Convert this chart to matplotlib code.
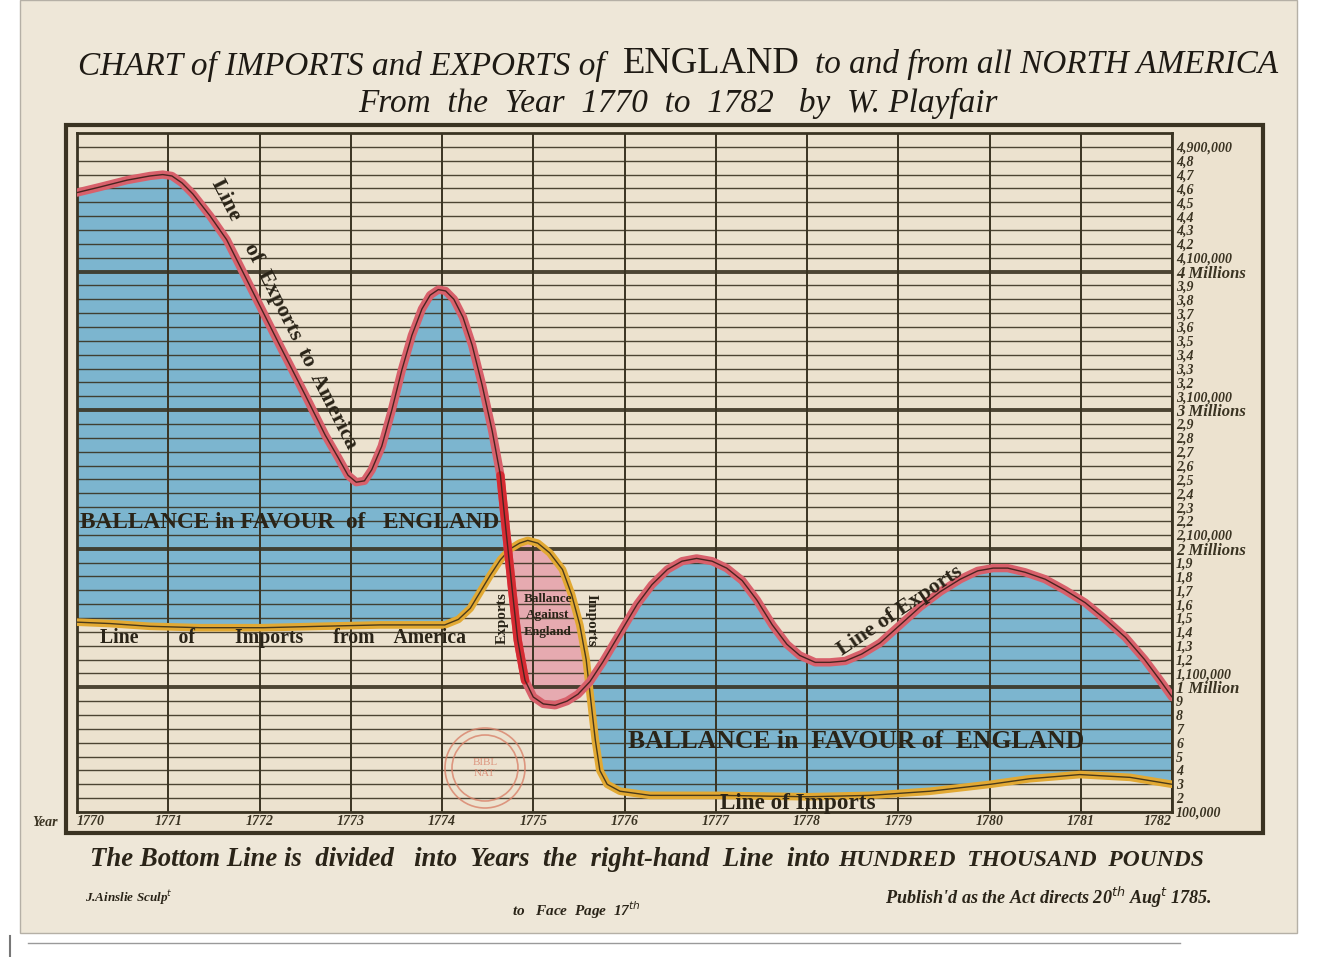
import numpy as np
import matplotlib.pyplot as plt
from matplotlib.patches import Rectangle, Circle

plt.rcParams['font.family'] = ['Liberation Serif', 'DejaVu Serif']

# values in hundred thousand pounds
ex_years = [1770.00, 1770.25, 1770.55, 1770.80, 1770.94, 1771.04, 1771.15, 1771.27,
            1771.46, 1771.64, 1771.93, 1772.22, 1772.50, 1772.72, 1772.86, 1772.97,
            1773.06, 1773.15, 1773.23, 1773.34, 1773.45, 1773.56, 1773.67, 1773.78,
            1773.87, 1773.96, 1774.04, 1774.13, 1774.23, 1774.33, 1774.44, 1774.55,
            1774.64, 1774.70, 1774.77, 1774.83, 1774.91, 1775.00, 1775.11, 1775.24,
            1775.37, 1775.49, 1775.62, 1775.76, 1775.95, 1776.14, 1776.30, 1776.47,
            1776.63, 1776.79, 1776.96, 1777.12, 1777.29, 1777.45, 1777.62, 1777.78,
            1777.92, 1778.09, 1778.25, 1778.42, 1778.60, 1778.80, 1779.02, 1779.24,
            1779.46, 1779.68, 1779.87, 1780.04, 1780.20, 1780.39, 1780.61, 1780.83,
            1781.05, 1781.27, 1781.49, 1781.70, 1781.87, 1782.00]
ex_vals = [45.7, 46.1, 46.6, 46.9, 47.0, 46.9, 46.4, 45.6,
           44.0, 42.3, 38.5, 34.7, 31.1, 28.2, 26.6, 25.3,
           24.8, 24.9, 25.7, 27.4, 30.0, 32.9, 35.4, 37.3,
           38.3, 38.7, 38.6, 38.0, 36.7, 34.7, 31.8, 28.5,
           25.3, 21.4, 17.0, 13.4, 10.5, 9.3, 8.8, 8.7,
           9.0, 9.5, 10.4, 11.8, 13.9, 16.0, 17.4, 18.5,
           19.1, 19.3, 19.1, 18.6, 17.7, 16.3, 14.5, 13.1,
           12.3, 11.8, 11.8, 11.9, 12.4, 13.2, 14.5, 15.8,
           16.9, 17.8, 18.4, 18.6, 18.6, 18.3, 17.8, 17.0,
           16.1, 14.9, 13.6, 12.0, 10.5, 9.3]

im_years = [1770.00, 1770.36, 1770.80, 1771.35, 1772.04, 1772.66, 1773.32, 1774.03,
            1774.18, 1774.31, 1774.42, 1774.53, 1774.64, 1774.75, 1774.85, 1774.94,
            1775.05, 1775.18, 1775.32, 1775.42, 1775.51, 1775.58, 1775.63, 1775.68,
            1775.73, 1775.81, 1775.95, 1776.28, 1777.05, 1778.01, 1778.69, 1779.35,
            1780.01, 1780.44, 1780.99, 1781.54, 1782.00]
im_vals = [14.7, 14.6, 14.4, 14.3, 14.3, 14.4, 14.5, 14.5,
           14.9, 15.7, 16.9, 18.1, 19.2, 20.0, 20.4, 20.6,
           20.4, 19.7, 18.5, 16.7, 14.5, 12.0, 9.1, 6.2,
           4.0, 3.0, 2.5, 2.2, 2.2, 2.1, 2.2, 2.5,
           3.0, 3.4, 3.7, 3.5, 3.0]

years = list(range(1770, 1783))
ytick_vals = list(range(1, 50))
ytick_labels = []
for v in ytick_vals:
    m, h = divmod(v, 10)
    if v == 1:
        ytick_labels.append('100,000')
    elif h == 0:
        ytick_labels.append('%d Million%s' % (m, '' if m == 1 else 's'))
    elif h == 1 or v == 49:
        ytick_labels.append('%d,%d00,000' % (m, h))
    elif m == 0:
        ytick_labels.append(str(h))
    else:
        ytick_labels.append('%d,%d' % (m, h))

paper = '#eee7d8'
plot_bg = '#ece2cf'
ink = '#3a3322'
blue = '#7cb5cf'
pink = '#e6aab0'
red = '#d8606b'
yellow = '#e2a933'

W, H = 1324, 957
fig = plt.figure(figsize=(13.24, 9.57), dpi=100)
fig.patch.set_facecolor('white')

bg = fig.add_axes([0, 0, 1, 1], zorder=0)
bg.set_xlim(0, W)
bg.set_ylim(H, 0)
bg.axis('off')
bg.add_patch(Rectangle((20, 0), 1277, 933, fc=paper, ec='#b5b0a6', lw=1))
bg.plot([28, 1180], [943, 943], color='#9a9a9a', lw=1)
bg.plot([10, 10], [936, 957], color='#777777', lw=1.5)
# outer frame of the engraving
bg.add_patch(Rectangle((66, 125), 1197, 708, fc=plot_bg, ec=ink, lw=3))

ax = fig.add_axes([77 / W, 1 - 812 / H, (1172 - 77) / W, (812 - 133) / H], zorder=1)
ax.set_facecolor(plot_bg)
ax.set_xlim(1770, 1782)
ax.set_ylim(1, 50)
for s in ax.spines.values():
    s.set_color(ink)
    s.set_linewidth(2)

xs = np.linspace(1770, 1782, 2400)
e = np.interp(xs, ex_years, ex_vals)
i = np.interp(xs, im_years, im_vals)
ax.fill_between(xs, i, e, where=e >= i, interpolate=True, color=blue, lw=0, zorder=1)
ax.fill_between(xs, e, i, where=i > e, interpolate=True, color=pink, lw=0, zorder=1)

for v in ytick_vals:
    ax.axhline(v, color=ink, lw=2.8 if v % 10 == 0 else 1.0, alpha=0.9, zorder=2)
for y in years:
    ax.axvline(y, color=ink, lw=1.4, zorder=2)

line_kw = dict(solid_capstyle='round', solid_joinstyle='round', zorder=3)
ax.plot(im_years, im_vals, color=yellow, lw=5.5, **line_kw)
ax.plot(im_years, im_vals, color='#4a3a1a', lw=1.0, **line_kw)
ax.plot(ex_years, ex_vals, color=red, lw=6, **line_kw)
sel = [k for k, y in enumerate(ex_years) if 1774.64 <= y <= 1774.91]
ax.plot([ex_years[k] for k in sel], [ex_vals[k] for k in sel], color='#d62a32', lw=6, **line_kw)
ax.plot(ex_years, ex_vals, color='#4a2420', lw=1.0, **line_kw)

ax.set_xticks(years)
ax.set_xticklabels([str(y) for y in years], fontsize=10, style='italic', weight='bold', color=ink)
ax.tick_params(axis='x', length=0, pad=2)
xl = ax.get_xticklabels()
xl[0].set_ha('left')
xl[-1].set_ha('right')

ax.yaxis.tick_right()
ax.set_yticks(ytick_vals)
ax.set_yticklabels(ytick_labels, fontsize=10, style='italic', weight='bold', color=ink)
ax.tick_params(axis='y', length=0, pad=3)
for t in ax.get_yticklabels():
    if 'Million' in t.get_text():
        t.set_fontsize(12)

r = fig.canvas.get_renderer()


def fit(t, width):
    w = t.get_window_extent(renderer=r).width
    t.set_fontsize(t.get_fontsize() * width / w)
    return t


# titles
fit(bg.text(78, 66, 'CHART of IMPORTS and EXPORTS of', style='italic', fontsize=20,
            va='center', color='#1e1a14'), 527)
fit(bg.text(623, 64, 'ENGLAND', fontsize=22, va='center', color='#1e1a14'), 177)
fit(bg.text(815, 64, 'to and from all NORTH AMERICA', style='italic', fontsize=20,
            va='center', color='#1e1a14'), 463)
fit(bg.text(358, 103, 'From  the  Year  1770  to  1782   by  W. Playfair', style='italic',
            fontsize=20, va='center', color='#1e1a14'), 640)

fit(bg.text(90, 860, 'The Bottom Line is  divided   into  Years  the  right-hand  Line  into',
            style='italic', weight='bold', fontsize=16, va='center', color='#2a2418'), 742)
fit(bg.text(838, 860, 'HUNDRED  THOUSAND  POUNDS', style='italic', weight='bold', fontsize=16,
            va='center', color='#2a2418'), 367)
fit(bg.text(85, 898, 'J.Ainslie Sculp$^t$', style='italic', weight='bold', fontsize=8,
            va='center', color='#2a2418'), 88)
fit(bg.text(512, 910, 'to   Face  Page  17$^{th}$', style='italic', weight='bold', fontsize=8,
            va='center', color='#2a2418'), 130)
fit(bg.text(885, 897, "Publish'd as the Act directs 20$^{th}$ Aug$^t$ 1785.", style='italic',
            weight='bold', fontsize=8, va='center', color='#2a2418'), 330)
bg.text(45, 822, 'Year', style='italic', weight='bold', fontsize=10, ha='center',
        va='center', color=ink)

# labels on the chart
lab = dict(transform=bg.transData, color='#2a2418', zorder=5, va='center', weight='bold')
fit(ax.text(80, 522, 'BALLANCE in FAVOUR  of   ENGLAND', fontsize=14, ha='left', **lab), 420)
fit(ax.text(628, 742, 'BALLANCE in  FAVOUR of  ENGLAND', fontsize=14, ha='left', **lab), 457)
fit(ax.text(100, 638, 'Line        of        Imports      from    America', fontsize=11,
            ha='left', **lab), 365)
fit(ax.text(720, 804, 'Line of Imports', fontsize=11, ha='left', **lab), 155)
t = fit(ax.text(284, 314, 'Line     of  Exports  to  America', fontsize=11, ha='center',
                rotation_mode='anchor', **lab), 300)
t.set_rotation(-63)
t = fit(ax.text(900, 611, 'Line of Exports', fontsize=11, ha='center',
                rotation_mode='anchor', **lab), 146)
t.set_rotation(34)
ax.text(548, 615, 'Ballance\nAgainst\nEngland', fontsize=9.5, ha='center', linespacing=1.5, **lab)
ax.text(502, 618, 'Exports', fontsize=11, ha='center', rotation=90, rotation_mode='anchor', **lab)
ax.text(591, 620, 'Imports', fontsize=11, ha='center', rotation=-90, rotation_mode='anchor', **lab)

# faded library stamp
for rad in (40, 33):
    ax.add_patch(Circle((485, 768), rad, transform=bg.transData, fill=False,
                        ec='#d9826a', lw=1.2, alpha=0.8, zorder=4, clip_on=False))
ax.text(485, 768, 'BIBL\nNAT', transform=bg.transData, fontsize=8, color='#d9826a',
        ha='center', va='center', alpha=0.8, zorder=4)

fig.savefig('out.png', dpi=100, facecolor=fig.get_facecolor())
